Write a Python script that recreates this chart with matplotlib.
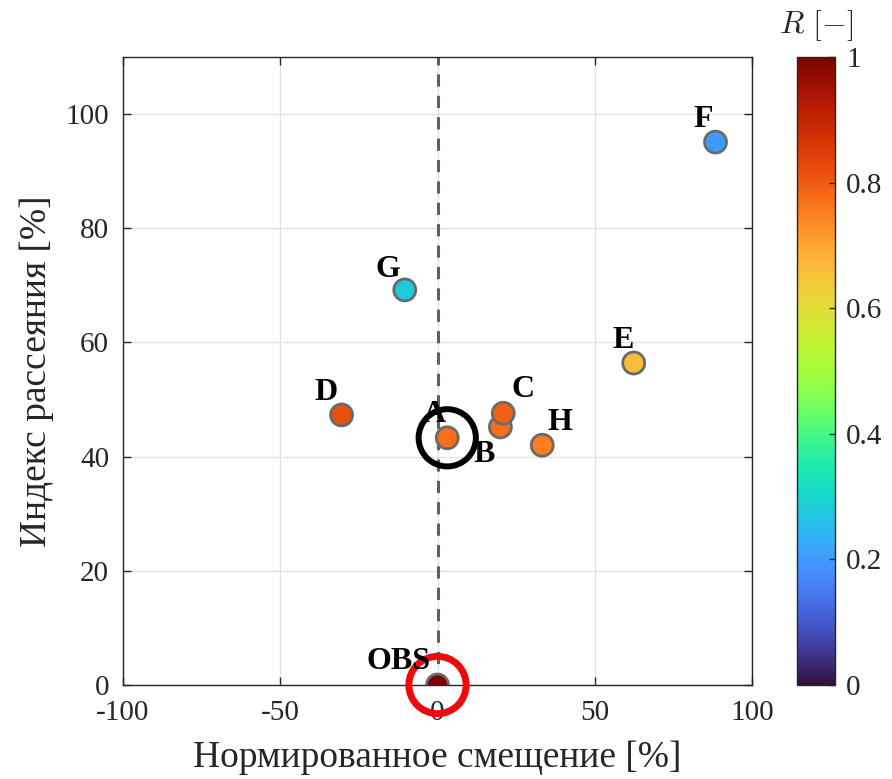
import matplotlib
matplotlib.use("Agg")
import matplotlib.pyplot as plt
import numpy as np

plt.rcParams["font.family"] = ["Liberation Serif", "DejaVu Serif"]
plt.rcParams["mathtext.fontset"] = "cm"

# Models: normalised bias [%], scatter index [%], correlation R
names = ["OBS", "A", "B", "C", "D", "E", "F", "G", "H"]
bias = [0.0, 3.1, 20.0, 20.9, -30.5, 62.4, 88.4, -10.4, 33.3]
scatter_idx = [0.0, 43.3, 45.2, 47.6, 47.3, 56.4, 95.1, 69.2, 42.0]
corr = [1.0, 0.77, 0.77, 0.79, 0.82, 0.66, 0.20, 0.28, 0.75]

# label offsets (points) relative to each marker
label_offsets = {
    "OBS": (-28, 17), "A": (-9, 17), "B": (-12, -20), "C": (14, 17),
    "D": (-11, 16), "E": (-8, 16), "F": (-9, 16), "G": (-12, 15), "H": (13, 16),
}

xticks = [-100, -50, 0, 50, 100]
yticks = [0, 20, 40, 60, 80, 100]
cticks = [0, 0.2, 0.4, 0.6, 0.8, 1]

fig = plt.figure(figsize=(8.92, 7.79), dpi=100)
ax = fig.add_axes([123 / 892, 94 / 779, 629 / 892, 628 / 779])
cax = fig.add_axes([797 / 892, 94 / 779, 38 / 892, 628 / 779])

ax.set_xlim(-100, 100)
ax.set_ylim(0, 110)
ax.grid(True, color="#e3e3e3", lw=1.0)
ax.set_axisbelow(True)

ax.plot([0, 0], [0, 110], ls=(0, (4, 3)), color="#606060", lw=2.2, zorder=2)

sc = ax.scatter(bias, scatter_idx, c=corr, cmap="turbo", vmin=0, vmax=1,
                s=250, edgecolors="#6a6a6a", linewidths=2.0, zorder=4)

for n, x, y in zip(names, bias, scatter_idx):
    dx, dy = label_offsets[n]
    ax.annotate(n, (x, y), xytext=(dx, dy), textcoords="offset points",
                ha="center", va="center", fontsize=23, fontweight="bold",
                zorder=6)

# highlight rings around model A and the observations
ia = names.index("A")
io = names.index("OBS")
ax.scatter([bias[ia]], [scatter_idx[ia]], s=1700, facecolors="none",
           edgecolors="black", linewidths=4.3, zorder=5)
ax.scatter([bias[io]], [scatter_idx[io]], s=1700, facecolors="none",
           edgecolors="#ee0a0a", linewidths=5.0, zorder=5, clip_on=False)

ax.set_xticks(xticks)
ax.set_yticks(yticks)
ax.set_xticklabels([str(t) for t in xticks])
ax.set_yticklabels([str(t) for t in yticks])
ax.tick_params(direction="in", length=6, width=1.0, colors="#262626",
               labelsize=21, top=True, right=True, labelcolor="#262626")
ax.tick_params(axis="x", pad=11)
ax.tick_params(axis="y", pad=10)
for sp in ax.spines.values():
    sp.set_color("#262626")
    sp.set_linewidth(1.0)

ax.set_xlabel("Нормированное смещение [%]", fontsize=27, color="#262626",
              labelpad=10)
ax.set_ylabel("Индекс рассеяния [%]", fontsize=27, color="#262626",
              labelpad=8)

cb = fig.colorbar(sc, cax=cax, ticks=cticks)
cb.ax.set_yticklabels(["0", "0.2", "0.4", "0.6", "0.8", "1"])
cb.ax.tick_params(direction="in", length=4, width=1.0, labelsize=21,
                  colors="#262626", pad=8)
cb.outline.set_edgecolor("#262626")
cb.outline.set_linewidth(1.0)
cax.text(0.5, 1.022, r"$R\ [-]$", transform=cax.transAxes, ha="center",
         va="bottom", fontsize=23, color="#262626")

fig.savefig("out.png", dpi=100)
